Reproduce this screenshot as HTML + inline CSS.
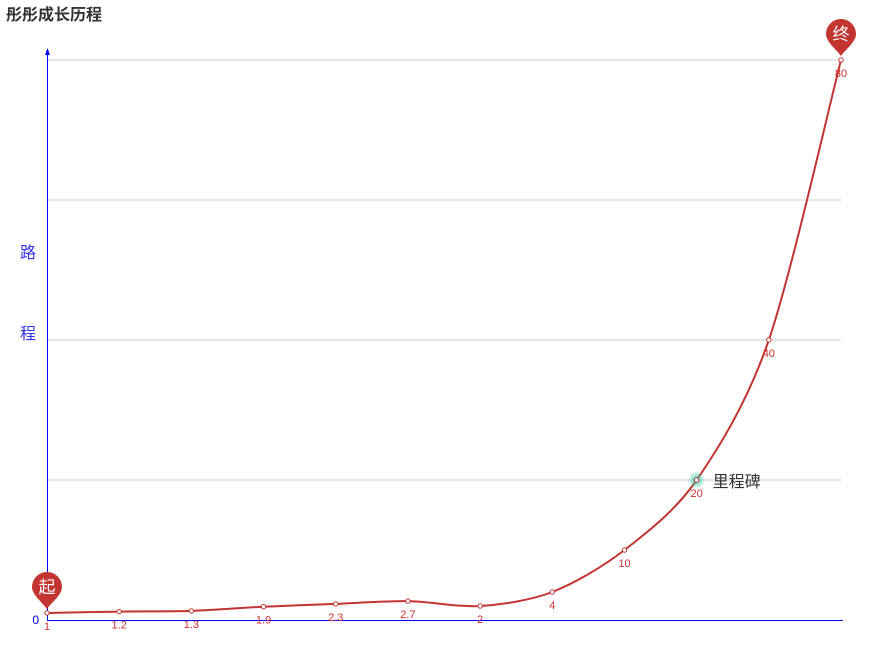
<!DOCTYPE html>
<html><head><meta charset="utf-8"><style>
html,body{margin:0;padding:0;background:#fff;width:877px;height:648px;overflow:hidden}
svg{display:block;font-family:"Liberation Sans","Noto Sans CJK SC",sans-serif}
</style></head><body>
<svg id="c" width="877" height="648">
<text x="6" y="20" font-size="16" font-weight="bold" fill="#333">彤彤成长历程</text>
<text x="20" y="258" font-size="16" fill="#3333ee">路</text>
<text x="20" y="339" font-size="16" fill="#3333ee">程</text>
<defs><radialGradient id="glow"><stop offset="0" stop-color="#2ec7a0" stop-opacity="0.9"/><stop offset="1" stop-color="#2ec7a0" stop-opacity="0"/></radialGradient></defs>
</svg>
<script>
const categories=["1","2","3","4","5","6","7","8","9","10","11","12"];
const values=[1,1.2,1.3,1.9,2.3,2.7,2,4,10,20,40,80];
const gridTicks=[20,40,60,80];
const milestoneIndex=9;
const svg=document.getElementById('c');
const NS='http://www.w3.org/2000/svg';
const x0=47,x1=841,y0=620,yTop=60,yMax=80;
function xs(i){return x0+(x1-x0)*i/(categories.length-1);}
function ys(v){return y0-(y0-yTop)*v/yMax;}
function mk(t,a){const e=document.createElementNS(NS,t);for(const k in a)e.setAttribute(k,a[k]);svg.appendChild(e);return e;}
gridTicks.forEach(t=>{
 const g=mk('line',{x1:x0,x2:x1,y1:ys(t),y2:ys(t),stroke:'#ccc','stroke-width':1});
 
 
});
const xa=mk('line',{x1:x0,x2:x1+2,y1:y0+0.5,y2:y0+0.5,stroke:'#0000ff','stroke-width':1});


const ya=mk('line',{x1:x0+0.5,x2:x0+0.5,y1:50,y2:y0,stroke:'#0000ff','stroke-width':1});


const ar=mk('path',{d:`M${x0+0.5} 48 L${x0-2} 55 L${x0+3} 55 Z`,fill:'#0000ff'});


const z=mk('text',{x:39,y:624,'font-size':12,fill:'#0000ff','text-anchor':'end'});z.textContent='0';


// smooth line (catmull-rom)
const P=values.map((v,i)=>[xs(i),ys(v)]);
let d=`M${P[0][0]} ${P[0][1]}`;const t=0.3;
for(let i=0;i<P.length-1;i++){
 const p0=P[Math.max(i-1,0)],p1=P[i],p2=P[i+1],p3=P[Math.min(i+2,P.length-1)];
 const c1=[p1[0]+(p2[0]-p0[0])*t/2*1.0,p1[1]+(p2[1]-p0[1])*t/2];
 const c2=[p2[0]-(p3[0]-p1[0])*t/2,p2[1]-(p3[1]-p1[1])*t/2];
 d+=` C${c1[0]} ${c1[1]} ${c2[0]} ${c2[1]} ${p2[0]} ${p2[1]}`;
}
const ln=mk('path',{d:d,fill:'none',stroke:'#c23531','stroke-width':2});


const gl=mk('circle',{cx:xs(milestoneIndex),cy:ys(values[milestoneIndex]),r:9,fill:'url(#glow)'});


values.forEach((v,i)=>{
 const c=mk('circle',{cx:xs(i),cy:ys(v),r:2.2,fill:'#fff',stroke:'#c23531','stroke-width':1});
 
 
 const l=mk('text',{x:xs(i),y:ys(v)+17,'font-size':11,fill:'#d03030','text-anchor':'middle'});
 l.textContent=String(v);
 
 
});
const ml=mk('text',{x:xs(milestoneIndex)+16,y:ys(values[milestoneIndex])+7,'font-size':16,fill:'#333'});
ml.textContent='里程碑';


function pin(i,txt,name){
 const x=xs(i),y=ys(values[i])-4,r=15,cy=y-22;
 const p=mk('path',{d:`M${x} ${y} C${x-4} ${y-6} ${x-r} ${cy+8} ${x-r} ${cy} A${r} ${r} 0 1 1 ${x+r} ${cy} C${x+r} ${cy+8} ${x+4} ${y-6} ${x} ${y} Z`,fill:'#c23531'});
 
 
 const tx=mk('text',{x:x,y:cy+6,'font-size':17,fill:'#fff','text-anchor':'middle'});
 tx.textContent=txt;
 
 
}
pin(0,'起','start-pin');
pin(values.length-1,'终','end-pin');
</script>
</body></html>
